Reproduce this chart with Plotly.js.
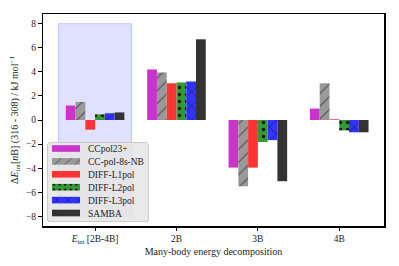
<!DOCTYPE html>
<html><head><meta charset="utf-8">
<script src="https://cdn.plot.ly/plotly-3.0.1.min.js"></script>
<style>html,body{margin:0;padding:0;background:#fff}</style>
</head><body><div id="chart" style="width:399px;height:266px"></div>
<script>
const categories = ['Eint', '2B', '3B', '4B'];
const tickLabels = ['<i>E</i><sub>int</sub> [2B-4B]', '2B', '3B', '4B'];
const seriesNames = ['CCpol23+', 'CC-pol-8s-NB', 'DIFF-L1pol', 'DIFF-L2pol', 'DIFF-L3pol', 'SAMBA'];
const ccpol23 = [1.2, 4.2, -3.95, 0.95];
const ccpol8s = [1.5, 3.95, -5.5, 3.05];
const diffL1 = [-0.8, 3.05, -3.95, 0.06];
const diffL2 = [0.47, 3.12, -1.83, -0.86];
const diffL3 = [0.56, 3.2, -1.67, -1.02];
const samba = [0.63, 6.7, -5.08, -1.02];
const shadeSpan = {x: [-0.45, 0.45], y: [-8, 8]};

const values = [ccpol23, ccpol8s, diffL1, diffL2, diffL3, samba];
const colors = ['#cc33cc', '#999999', '#ff3333', '#339933', '#3333ff', '#333333'];
const patterns = [
  null,
  {shape: '/', fgcolor: '#4d4d4d', bgcolor: '#999999', size: 9, solidity: 0.12},
  null,
  {shape: '.', fgcolor: '#111111', bgcolor: '#339933', size: 7, solidity: 0.18},
  {shape: 'x', fgcolor: '#111166', bgcolor: '#3333ff', size: 10, solidity: 0.12},
  null
];

const traces = values.map((v, i) => {
  const t = {
    type: 'bar', name: seriesNames[i], x: categories, y: v,
    marker: {color: colors[i], line: {width: 0}}
  };
  if (patterns[i]) t.marker.pattern = Object.assign({fillmode: 'replace'}, patterns[i]);
  return t;
});

const fam = '"Liberation Serif", "DejaVu Serif", serif';
const layout = {
  width: 399, height: 266,
  margin: {l: 43, r: 15, t: 14, b: 40},
  paper_bgcolor: '#fff', plot_bgcolor: '#fff',
  font: {family: fam, size: 9.5, color: '#222'},
  barmode: 'group', bargap: 0.28, bargroupgap: 0,
  showlegend: true,
  legend: {
    x: 0.012, y: 0.024, xanchor: 'left', yanchor: 'bottom',
    bgcolor: 'rgba(229,229,229,0.85)', bordercolor: '#cccccc', borderwidth: 1,
    font: {family: fam, size: 9.5, color: '#222'}
  },
  xaxis: {
    type: 'category', range: [-0.64, 3.55],
    tickmode: 'array', tickvals: categories, ticktext: tickLabels,
    showline: true, linecolor: '#000', linewidth: 1.5, mirror: true,
    ticks: 'outside', ticklen: 3.5, tickcolor: '#000', tickwidth: 1,
    showgrid: false, zeroline: false,
    tickfont: {family: fam, size: 9.5, color: '#222'},
    title: {text: 'Many-body energy decomposition', font: {family: fam, size: 10, color: '#222'}, standoff: 3}
  },
  yaxis: {
    range: [-8.8, 8.8], tickvals: [-8, -6, -4, -2, 0, 2, 4, 6, 8],
    showline: true, linecolor: '#000', linewidth: 1.5, mirror: true,
    ticks: 'outside', ticklen: 3.5, tickcolor: '#000', tickwidth: 1,
    showgrid: false, zeroline: false,
    tickfont: {family: fam, size: 9.5, color: '#222'},
    title: {text: 'Δ<i>E</i><sub>int</sub>[<i>n</i>B] (316 - 308) / kJ mol<sup>−1</sup>', font: {family: fam, size: 10, color: '#222'}, standoff: 5}
  },
  shapes: [{
    type: 'rect', xref: 'x', yref: 'y', layer: 'below',
    x0: shadeSpan.x[0], x1: shadeSpan.x[1], y0: shadeSpan.y[0], y1: shadeSpan.y[1],
    fillcolor: 'rgba(0,0,255,0.12)', line: {color: 'rgba(0,0,255,0.18)', width: 1}
  }]
};

const gd = document.getElementById('chart');
Plotly.newPlot(gd, traces, layout, {staticPlot: true, displayModeBar: false}).then(() => {
  // compact legend rows like the original
  const leg = gd.querySelector('.legend');
  if (!leg) return;
  const items = leg.querySelectorAll('.traces');
  const step = 12.9, top = 6.5;
  items.forEach((g, i) => {
    g.setAttribute('transform', 'translate(1,' + (top + i * step) + ')');
    g.querySelectorAll('.legendpoints path').forEach(p => p.setAttribute('d', 'M-16,3.3H12V-3.3H-16Z'));
  });
  const h = top + (items.length - 1) * step + 8;
  const w = 101;
  leg.querySelectorAll('rect.bg').forEach(r => { r.setAttribute('height', h); r.setAttribute('width', w); r.setAttribute('rx', 3); r.setAttribute('ry', 3); });
  leg.setAttribute('transform', 'translate(47,' + (221 - h) + ')');
});
</script>
</body></html>
